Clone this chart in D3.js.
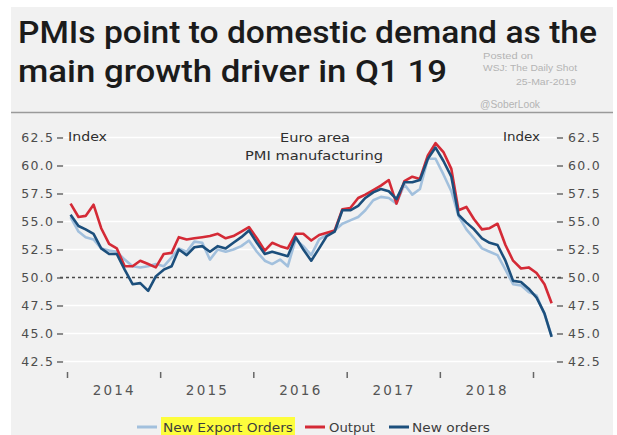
<!DOCTYPE html>
<html>
<head>
<meta charset="utf-8">
<script src="https://cdn.jsdelivr.net/npm/d3@7/dist/d3.min.js"></script>
<style>
  html, body { margin: 0; padding: 0; background: #ffffff; }
  svg { display: block; }
</style>
</head>
<body>
<div id="chart"></div>
<script>
// Euro area manufacturing PMI sub-indices, monthly Jan 2014 – Mar 2019
const startYear = 2014;
const output = [
  56.6, 55.4, 55.5, 56.5, 54.4, 53.0, 52.6, 51.0, 51.0, 51.5, 51.2, 50.9,
  52.1, 52.2, 53.6, 53.4, 53.5, 53.6, 53.7, 53.9, 53.5, 53.7, 54.1, 54.5,
  53.5, 52.4, 53.1, 52.8, 52.6, 53.9, 53.9, 53.3, 53.8, 54.0, 54.2, 56.1,
  56.2, 57.1, 57.4, 57.8, 58.2, 58.7, 56.6, 58.6, 59.0, 58.8, 60.9, 62.0,
  61.2, 59.7, 56.0, 56.3, 55.2, 54.3, 54.4, 54.8, 52.9, 51.5, 50.8, 50.9,
  50.4, 49.4, 47.7
];
const newOrders = [
  55.6, 54.6, 54.3, 53.9, 52.6, 52.1, 52.1, 50.7, 49.4, 49.5, 48.8, 50.1,
  50.7, 51.0, 52.5, 52.0, 52.7, 52.8, 52.3, 52.8, 52.6, 53.1, 53.6, 54.2,
  53.1, 52.1, 52.3, 52.1, 51.9, 53.6, 52.5, 51.5, 52.6, 53.7, 54.1, 56.0,
  56.0, 56.4, 57.1, 57.6, 57.9, 57.7, 57.0, 58.5, 58.5, 58.7, 60.6, 61.6,
  60.4, 59.0, 55.6, 54.9, 54.3, 53.5, 53.1, 52.9, 51.5, 49.7, 49.6, 49.0,
  48.2, 46.8, 44.7
];
const newExportOrders = [
  55.4, 54.1, 53.6, 53.4, 52.6, 52.4, 52.3, 51.6, 51.0, 50.9, 51.0, 51.2,
  51.0, 51.8, 52.6, 52.3, 53.2, 53.1, 51.6, 52.5, 52.3, 52.5, 52.8, 53.3,
  52.3, 51.5, 51.2, 51.6, 51.0, 53.4, 52.8, 52.0, 53.4, 53.8, 54.2, 54.8,
  55.1, 55.4, 56.0, 56.9, 57.2, 57.1, 56.6, 58.3, 57.4, 57.9, 60.6, 60.6,
  59.2, 57.7, 55.5, 54.3, 53.5, 52.6, 52.3, 52.0, 50.7, 49.4, 49.3, 48.7,
  48.4, 46.7, 44.8
];
const yTicks = [42.5, 45.0, 47.5, 50.0, 52.5, 55.0, 57.5, 60.0, 62.5];
const yearLabels = ["2014", "2015", "2016", "2017", "2018"];
const tickYears = [2014, 2015, 2016, 2017, 2018, 2019];

const seriesList = [
  { name: "New Export Orders", values: newExportOrders, color: "#a2c0dd" },
  { name: "Output", values: output, color: "#d42a36" },
  { name: "New orders", values: newOrders, color: "#1c4f7c" }
];

const W = 617, H = 435;
const svg = d3.select("#chart").append("svg")
  .attr("width", W).attr("height", H)
  .attr("viewBox", `0 0 ${W} ${H}`);

const labelFont = "'DejaVu Sans', sans-serif";

// background panel
svg.append("rect").attr("x", 11).attr("y", 7).attr("width", 602).attr("height", H - 7)
  .attr("fill", "#f1f1f1");

// source stamp, to the right of the headline
const stamp = svg.append("g").attr("fill", "#b4b4b4").style("font-family", "'Liberation Sans', Arial, sans-serif");
stamp.append("text").attr("x", 483).attr("y", 59).attr("font-size", 8.5).attr("textLength", 50)
  .attr("lengthAdjust", "spacingAndGlyphs").text("Posted on");
stamp.append("text").attr("x", 483).attr("y", 71).attr("font-size", 8.5).attr("textLength", 94)
  .attr("lengthAdjust", "spacingAndGlyphs").text("WSJ: The Daily Shot");
stamp.append("text").attr("x", 516).attr("y", 85).attr("font-size", 8.5).attr("textLength", 60)
  .attr("lengthAdjust", "spacingAndGlyphs").text("25-Mar-2019");
stamp.append("text").attr("x", 480).attr("y", 108).attr("font-size", 11).attr("textLength", 60)
  .attr("lengthAdjust", "spacingAndGlyphs").text("@SoberLook");

// headline
const title = svg.append("g").attr("fill", "#1b1b1b")
  .style("font-family", "Roboto, sans-serif").style("font-weight", 500).attr("font-size", 31);
title.append("text").attr("x", 18).attr("y", 43).attr("textLength", 579)
  .attr("lengthAdjust", "spacingAndGlyphs").text("PMIs point to domestic demand as the");
title.append("text").attr("x", 18).attr("y", 82).attr("textLength", 429)
  .attr("lengthAdjust", "spacingAndGlyphs").text("main growth driver in Q1 19");

// separator rule
svg.append("line").attr("x1", 11).attr("x2", 613).attr("y1", 112.5).attr("y2", 112.5)
  .attr("stroke", "#9a9a9a").attr("stroke-width", 1.5);

// scales
const x = d3.scaleTime()
  .domain([new Date(2014, 0, 1), new Date(2019, 0, 1)])
  .range([67, 533]);
const y = d3.scaleLinear().domain([42.5, 62.5]).range([361.5, 137.5]);
const dates = output.map((_, i) => new Date(startYear, i, 15));

// horizontal gridlines
svg.append("g").selectAll("line")
  .data(yTicks.filter(v => v !== 50))
  .join("line")
  .attr("x1", 64).attr("x2", 556)
  .attr("y1", d => y(d)).attr("y2", d => y(d))
  .attr("stroke", "#ffffff").attr("stroke-width", 1.5);

// 50 threshold
svg.append("line").attr("x1", 60).attr("x2", 563).attr("y1", y(50)).attr("y2", y(50))
  .attr("stroke", "#4a4a4a").attr("stroke-width", 1.3).attr("stroke-dasharray", "3,3");

// y axes on both sides
function styleAxis(g) {
  g.select(".domain").remove();
  g.selectAll(".tick line").attr("stroke", "#555").attr("stroke-width", 1.3);
  g.selectAll(".tick text").attr("fill", "#4d4d4d")
    .style("font-family", labelFont).style("font-size", "12.5px").style("letter-spacing", "1.3px");
}
svg.append("g").attr("transform", "translate(63,0)")
  .call(d3.axisLeft(y).tickValues(yTicks).tickSize(6).tickPadding(4).tickFormat(d3.format(".1f")))
  .call(styleAxis)
  .selectAll(".tick text").attr("dx", "1.3px");
svg.append("g").attr("transform", "translate(557,0)")
  .call(d3.axisRight(y).tickValues(yTicks).tickSize(6).tickPadding(5).tickFormat(d3.format(".1f")))
  .call(styleAxis);

// x axis: year boundary ticks and centred year labels
const xAxis = svg.append("g").attr("transform", "translate(0,372)")
  .call(d3.axisBottom(x).tickValues(tickYears.map(yr => new Date(yr, 0, 1))).tickSize(6).tickFormat(""));
xAxis.select(".domain").remove();
xAxis.selectAll(".tick line").attr("stroke", "#666").attr("stroke-width", 1.5);
svg.append("g").selectAll("text")
  .data(yearLabels)
  .join("text")
  .attr("x", d => x(new Date(+d, 6, 1)))
  .attr("y", 395)
  .attr("text-anchor", "middle")
  .attr("fill", "#555")
  .style("font-family", labelFont).style("font-size", "13.5px")
  .attr("textLength", 41).attr("lengthAdjust", "spacing")
  .text(d => d);

// in-plot annotations
const ann = svg.append("g").attr("fill", "#2e2e2e").style("font-family", labelFont).style("font-size", "12px");
ann.append("text").attr("x", 68).attr("y", 141).attr("textLength", 39).attr("lengthAdjust", "spacingAndGlyphs").text("Index");
ann.append("text").attr("x", 503).attr("y", 141).attr("textLength", 37).attr("lengthAdjust", "spacingAndGlyphs").text("Index");
ann.append("text").attr("x", 280).attr("y", 142).attr("textLength", 70).attr("lengthAdjust", "spacingAndGlyphs").text("Euro area");
ann.append("text").attr("x", 245).attr("y", 160).attr("textLength", 138).attr("lengthAdjust", "spacingAndGlyphs").text("PMI manufacturing");

// series lines
const line = d3.line().x((d, i) => x(dates[i])).y(d => y(d));
svg.append("g").selectAll("path")
  .data(seriesList)
  .join("path")
  .attr("d", d => line(d.values))
  .attr("fill", "none")
  .attr("stroke", d => d.color)
  .attr("stroke-width", 2.6)
  .attr("stroke-linejoin", "round");

// legend
const legendItems = [
  { s: seriesList[0], x0: 137, tx: 163, tw: 130, highlight: true },
  { s: seriesList[1], x0: 305, tx: 329, tw: 46 },
  { s: seriesList[2], x0: 389, tx: 412, tw: 78 }
];
const legend = svg.append("g");
legendItems.forEach(it => {
  if (it.highlight) {
    legend.append("rect").attr("x", it.tx - 2).attr("y", 417).attr("width", it.tw + 4).attr("height", 20)
      .attr("fill", "#fdfd3c");
  }
  legend.append("line").attr("x1", it.x0).attr("x2", it.x0 + 20).attr("y1", 427).attr("y2", 427)
    .attr("stroke", it.s.color).attr("stroke-width", 3);
  legend.append("text").attr("x", it.tx).attr("y", 432)
    .attr("fill", "#3d3d3d").style("font-family", labelFont).style("font-size", "13px")
    .attr("textLength", it.tw).attr("lengthAdjust", "spacingAndGlyphs")
    .text(it.s.name);
});
</script>
</body>
</html>
